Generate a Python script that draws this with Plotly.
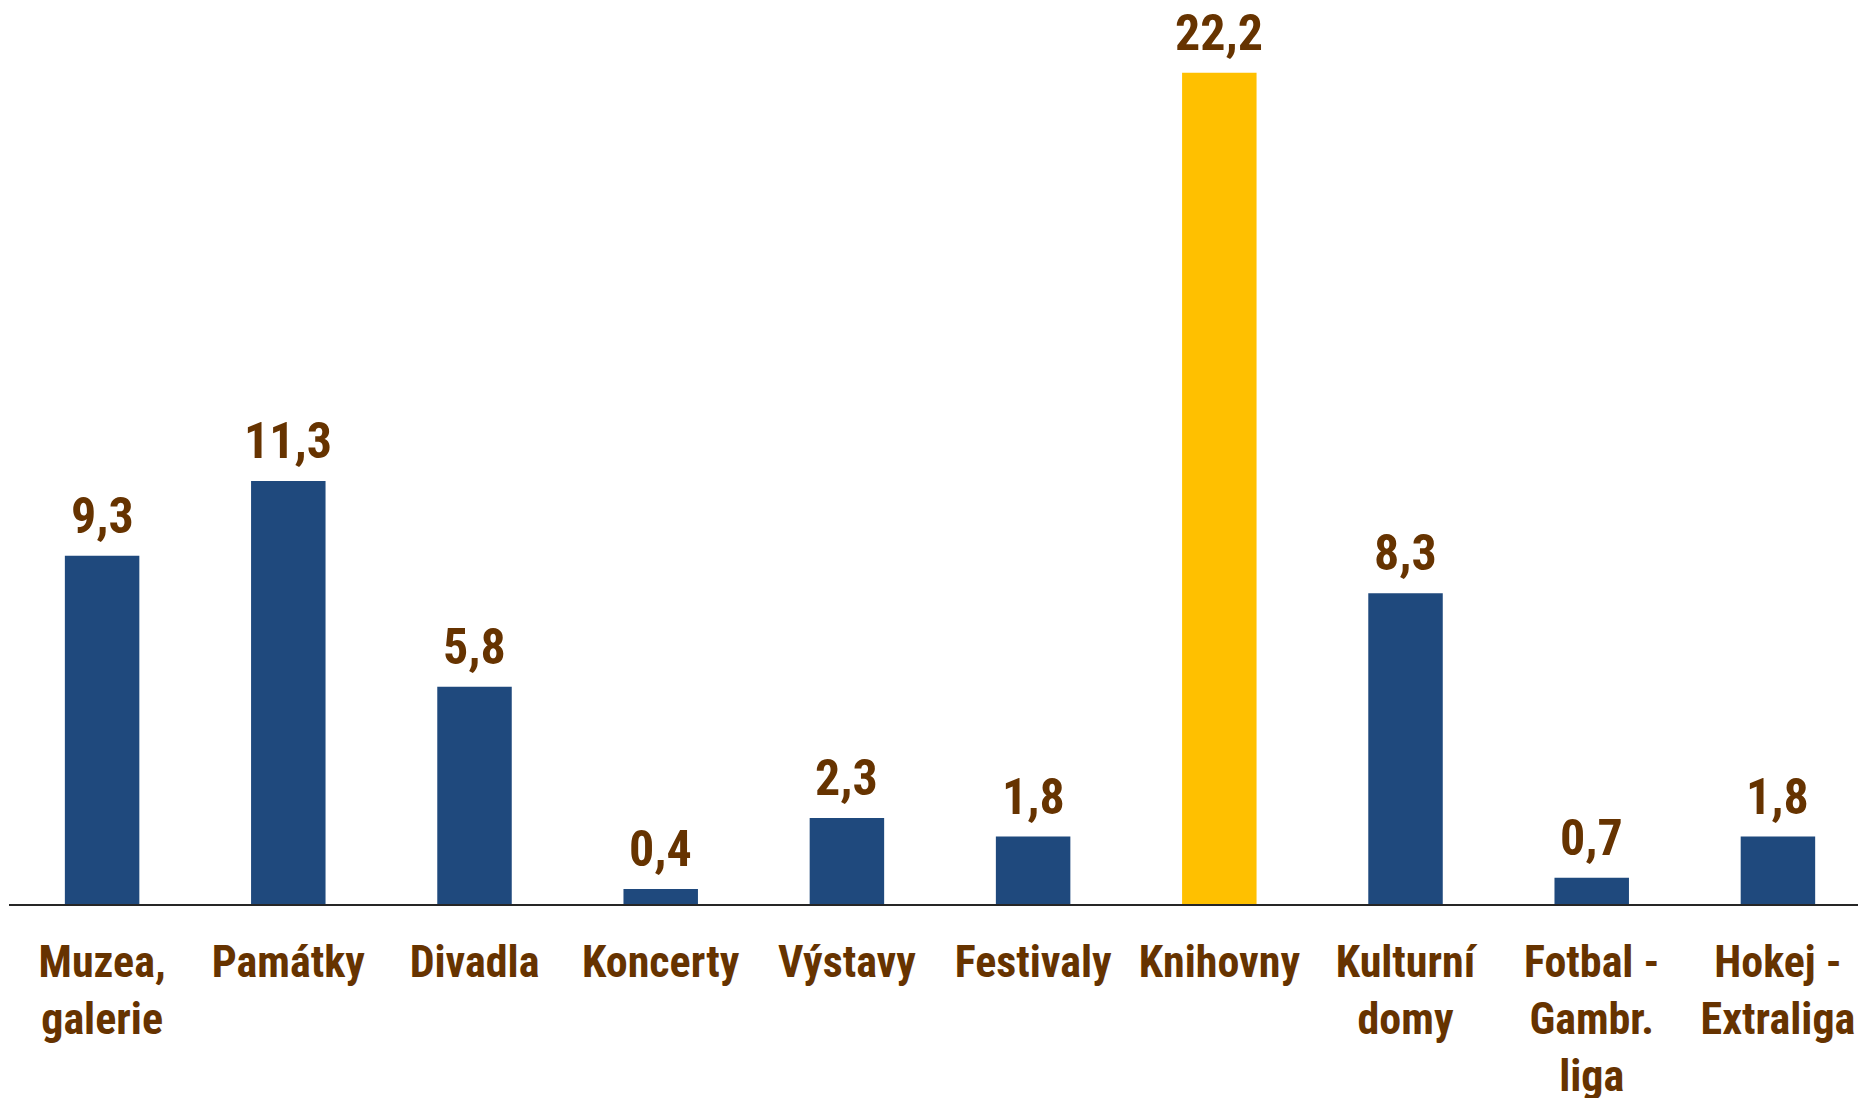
import plotly.graph_objects as go

categories = ["Muzea,<br>galerie", "Památky", "Divadla", "Koncerty", "Výstavy",
              "Festivaly", "Knihovny", "Kulturní<br>domy", "Fotbal -<br>Gambr.<br>liga",
              "Hokej -<br>Extraliga"]
values = [9.3, 11.3, 5.8, 0.4, 2.3, 1.8, 22.2, 8.3, 0.7, 1.8]
value_labels = ["9,3", "11,3", "5,8", "0,4", "2,3", "1,8", "22,2", "8,3", "0,7", "1,8"]
highlight = "Knihovny"

BLUE = "#1F497D"
YELLOW = "#FFC000"
BROWN = "#663300"
FONT = "Roboto Condensed, Liberation Sans Narrow, Arial Narrow, sans-serif"

x_idx = list(range(len(categories)))
colors = [YELLOW if c == highlight else BLUE for c in categories]

fig = go.Figure()
fig.add_trace(go.Bar(x=x_idx, y=values, marker=dict(color=colors, line=dict(width=0)),
                     width=0.4, hoverinfo="skip"))

for i, (v, t) in enumerate(zip(values, value_labels)):
    fig.add_annotation(x=i, y=v, text="<b>%s</b>" % t, showarrow=False,
                       yanchor="bottom", xanchor="center", yshift=9,
                       font=dict(family=FONT, size=50, color=BROWN))

# the page body adds an 8px offset, so the figure is 8px smaller than the window
fig.update_layout(
    width=1858, height=1090,
    margin=dict(l=1, r=0, t=0, b=194),
    plot_bgcolor="white", paper_bgcolor="white",
    showlegend=False,
    xaxis=dict(range=[-0.5, 9.473], tickmode="array", tickvals=x_idx,
               ticktext=["<b>%s</b>" % c for c in categories],
               tickfont=dict(family=FONT, size=44, color=BROWN),
               tickangle=0, automargin=False,
               showline=True, linecolor="#262626", linewidth=2,
               ticks="", showgrid=False, zeroline=False, ticklabelstandoff=18,
               fixedrange=True),
    yaxis=dict(range=[0, 23.93], visible=False, showgrid=False, zeroline=False,
               fixedrange=True, automargin=False),
)

fig.write_html("out.html")
